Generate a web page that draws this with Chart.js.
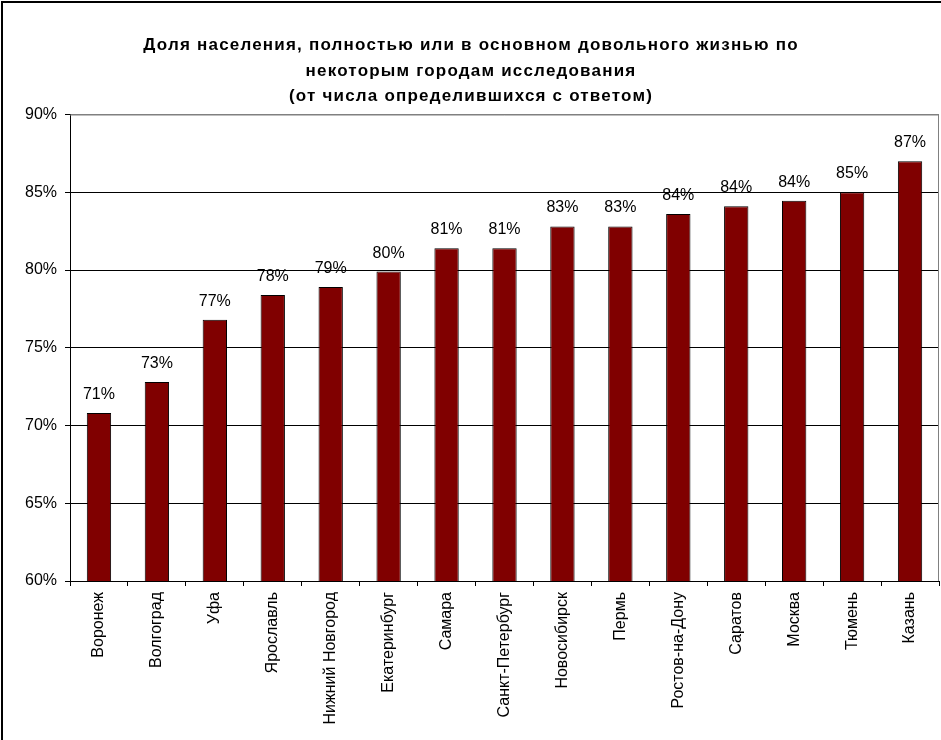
<!DOCTYPE html>
<html>
<head>
<meta charset="utf-8">
<script src="https://cdn.jsdelivr.net/npm/chart.js@4"></script>
<style>
  html, body { margin: 0; padding: 0; background: #fff; overflow: hidden; }
  #frame { position: absolute; left: 1px; top: 1px; width: 940px; height: 739px;
           border-left: 2px solid #000; border-top: 2px solid #000; box-sizing: border-box; }
  #wrap { position: absolute; left: 0; top: 0; width: 938px; height: 737px; }
</style>
</head>
<body>
<div id="frame"><div id="wrap"><canvas id="c"></canvas></div></div>
<script>
const titleLines = [
  'Доля населения, полностью или в основном довольного жизнью по',
  'некоторым городам исследования',
  '(от числа определившихся с ответом)'
];
const cities = ['Воронеж', 'Волгоград', 'Уфа', 'Ярославль', 'Нижний Новгород', 'Екатеринбург',
  'Самара', 'Санкт-Петербург', 'Новосибирск', 'Пермь', 'Ростов-на-Дону', 'Саратов',
  'Москва', 'Тюмень', 'Казань'];
const satisfied = [70.8, 72.8, 76.8, 78.4, 78.9, 79.9, 81.4, 81.4, 82.8, 82.8, 83.6, 84.1, 84.45, 85.0, 87.0];
const yMin = 60, yMax = 90, yStep = 5;

const FONT = "Arial, 'Liberation Sans', sans-serif";

const titleSpacing = {
  id: 'titleSpacing',
  beforeDraw(chart) {
    const tb = chart.titleBlock;
    if (tb && !tb._spaced) {
      const orig = tb.draw;
      tb.draw = function (a) {
        const c = this.ctx;
        c.save();
        c.letterSpacing = '1.2px';
        orig.call(this, a);
        c.restore();
      };
      tb._spaced = true;
    }
  }
};

const valueLabels = {
  id: 'valueLabels',
  afterDatasetsDraw(chart) {
    const ctx = chart.ctx;
    const meta = chart.getDatasetMeta(0);
    ctx.save();
    ctx.font = '16px ' + FONT;
    ctx.fillStyle = '#000';
    ctx.textAlign = 'center';
    ctx.textBaseline = 'alphabetic';
    meta.data.forEach((el, i) => {
      ctx.fillText(Math.round(satisfied[i]) + '%', el.x, el.y - 14);
    });
    ctx.restore();
  }
};

const plotFrame = {
  id: 'plotFrame',
  beforeDatasetsDraw(chart) {
    const a = chart.chartArea, ctx = chart.ctx;
    ctx.save();
    ctx.strokeStyle = '#808080';
    ctx.lineWidth = 1;
    ctx.beginPath();
    ctx.moveTo(a.left, a.top + 0.5);
    ctx.lineTo(a.right - 0.5, a.top + 0.5);
    ctx.lineTo(a.right - 0.5, a.bottom);
    ctx.stroke();
    ctx.restore();
  }
};

new Chart(document.getElementById('c'), {
  type: 'bar',
  data: {
    labels: cities,
    datasets: [{
      data: satisfied,
      backgroundColor: '#800000',
      borderColor: '#000',
      borderWidth: 1,
      borderSkipped: false,
      barPercentage: 0.42,
      categoryPercentage: 1.0
    }]
  },
  options: {
    responsive: true,
    maintainAspectRatio: false,
    animation: false,
    devicePixelRatio: 1,
    layout: { padding: { left: 0, right: 2, top: 0, bottom: 0 } },
    plugins: {
      legend: { display: false },
      tooltip: { enabled: false },
      title: {
        display: true,
        text: titleLines,
        color: '#000',
        font: { family: FONT, size: 17, weight: 'bold', lineHeight: 1.5 },
        padding: { top: 30, bottom: 5 }
      }
    },
    scales: {
      x: {
        grid: { display: true, drawOnChartArea: false, drawTicks: true, tickLength: 5, color: '#000', offset: true },
        border: { display: true, color: '#000', width: 1 },
        ticks: { color: '#000', font: { family: FONT, size: 16 }, maxRotation: 90, minRotation: 90, padding: 6, autoSkip: false },
        afterFit(s) { s.height = 159; }
      },
      y: {
        min: yMin, max: yMax,
        grid: {
          color: (c) => (c.tick && c.tick.value === yMax) ? '#808080' : '#000',
          tickColor: '#000',
          tickLength: 5, drawTicks: true
        },
        border: { display: true, color: '#000', width: 1 },
        ticks: { stepSize: yStep, color: '#000', font: { family: FONT, size: 16 }, padding: 8,
                 callback: (v) => v + '%' },
        afterFit(s) { s.width = 67; }
      }
    }
  },
  plugins: [titleSpacing, plotFrame, valueLabels]
});
</script>
</body>
</html>
